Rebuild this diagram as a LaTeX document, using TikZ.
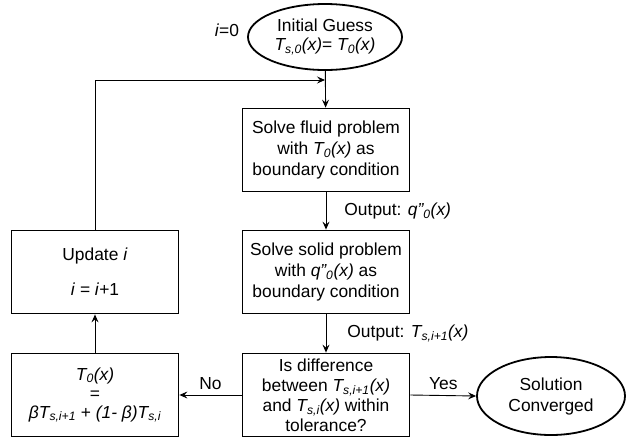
\documentclass[tikz,border=0pt]{standalone}
\usepackage{fontspec}
\setmainfont{Liberation Sans}
\usetikzlibrary{shapes.geometric,arrows.meta}
\begin{document}
\begin{tikzpicture}[x=1pt,y=-1pt,
  every node/.style={font=\fontsize{17.4}{21}\selectfont},
  box/.style={draw,line width=1.8pt,rectangle,minimum width=167pt,minimum height=83pt,inner sep=0pt,align=center},
  oval/.style={draw,line width=1.8pt,ellipse,inner sep=0pt,align=center},
  conn/.style={line width=0.9pt,-{Stealth[length=8pt,width=7pt,inset=3pt]}},
  lbl/.style={inner sep=0pt}]
\useasboundingbox (0,0) rectangle (626,440);
\node[oval,minimum width=154pt,minimum height=66pt] (init) at (325,37) {Initial Guess\\[-2pt]\textit{T\textsubscript{s,0}(x)}= \textit{T\textsubscript{0}(x)}};
\node[lbl] (i0) at (227,30) {\textit{i}=0};
\node[box] (fluid) at (326,150) {Solve fluid problem\\with \textit{T\textsubscript{0}(x)} as\\boundary condition};
\node[box] (solid) at (326,272) {Solve solid problem\\with \textit{q"\textsubscript{0}(x)} as\\boundary condition};
\node[box,font=\fontsize{17.4}{20}\selectfont] (check) at (326,395) {Is difference\\between \textit{T\textsubscript{s,i+1}(x)}\\and \textit{T\textsubscript{s,i}(x)} within\\tolerance?};
\node[box] (update) at (95,272) {Update \textit{i}\\[14pt]\textit{i} = \textit{i}+1};
\node[box,font=\fontsize{17.4}{19}\selectfont] (relax) at (95,395) {\textit{T\textsubscript{0}(x)}\\=\\\textit{βT\textsubscript{s,i+1}} + \textit{(1- β)T\textsubscript{s,i}}};
\node[oval,minimum width=148pt,minimum height=78pt] (conv) at (551,396) {Solution\\Converged};
\coordinate (j) at (325,80);
\coordinate (c) at (95,80);
\draw[conn] (init) -- (fluid);
\draw[conn] (update.north) -- (c) -- (j);
\draw[conn] (fluid) -- (solid) node[lbl,midway,anchor=west,xshift=18pt] {Output: \textit{q"\textsubscript{0}(x)}};
\draw[conn] (solid) -- (check) node[lbl,midway,anchor=west,xshift=21pt] {Output: \textit{T\textsubscript{s,i+1}(x)}};
\draw[conn] (relax) -- (update);
\draw[conn] (check.west) -- (relax.east) node[lbl,midway,above=5pt] {No};
\draw[conn] (check.east) -- (conv.west) node[lbl,midway,above=5pt] {Yes};
\end{tikzpicture}
\end{document}
